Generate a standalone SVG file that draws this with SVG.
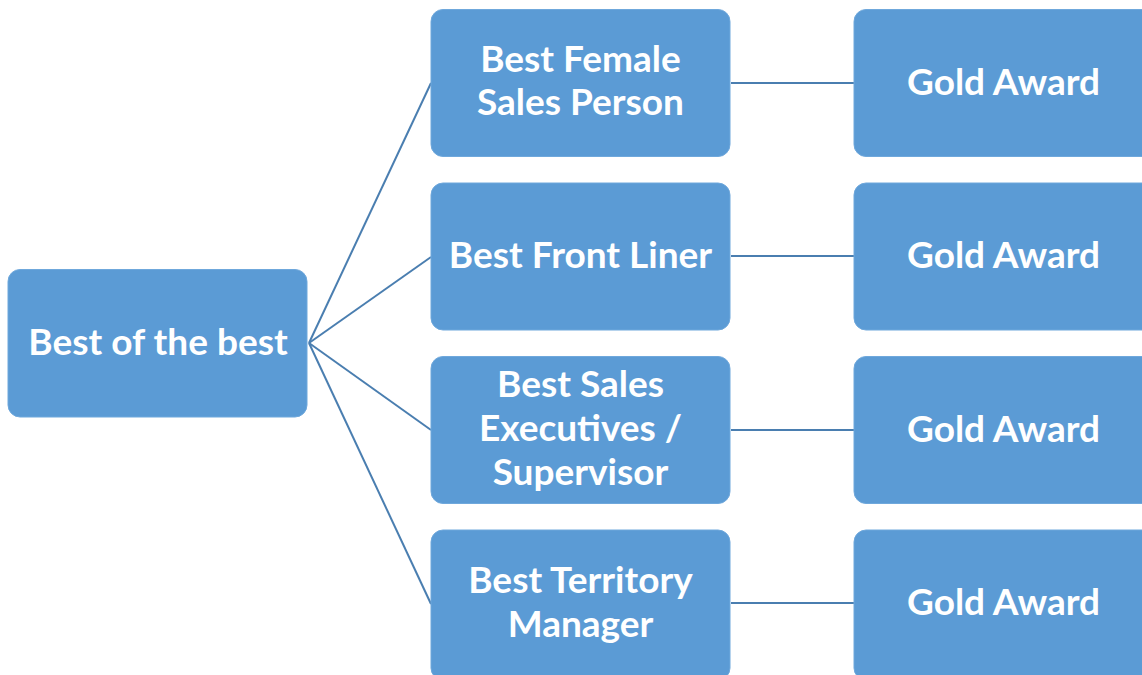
<svg xmlns="http://www.w3.org/2000/svg" width="1142" height="675" viewBox="0 0 1142 675">
<style>
.box{fill:#5B9BD5;stroke:#6FA8DC;stroke-width:1}
.t{font-family:Lato,"Open Sans",sans-serif;font-weight:700;font-size:37px;fill:#fff;text-anchor:middle}
.c{stroke:#4A7EB0;stroke-width:2;fill:none}
</style>
<rect width="1142" height="675" fill="#fff"/>
<g id="connectors">
<line class="c" x1="309" y1="343" x2="431" y2="83"/>
<line class="c" x1="309" y1="343" x2="431" y2="257"/>
<line class="c" x1="309" y1="343" x2="431" y2="430"/>
<line class="c" x1="309" y1="343" x2="431" y2="604"/>
<line class="c" x1="731" y1="83" x2="854" y2="83"/>
<line class="c" x1="731" y1="256" x2="854" y2="256"/>
<line class="c" x1="731" y1="430" x2="854" y2="430"/>
<line class="c" x1="731" y1="603" x2="854" y2="603"/>
</g>
<g id="root"><rect class="box" x="8" y="269.500" width="299" height="147.500" rx="12"/><text class="t" x="158" y="355">Best of the best</text></g>
<g id="m1"><rect class="box" x="431" y="9.500" width="299" height="147" rx="12"/><text class="t" x="580.500" y="72">Best Female</text><text class="t" x="580.500" y="115">Sales Person</text></g>
<g id="m2"><rect class="box" x="431" y="183" width="299" height="147" rx="12"/><text class="t" x="580.500" y="268">Best Front Liner</text></g>
<g id="m3"><rect class="box" x="431" y="356.500" width="299" height="147" rx="12"/><text class="t" x="580.500" y="397">Best Sales</text><text class="t" x="580.500" y="441">Executives /</text><text class="t" x="580.500" y="485">Supervisor</text></g>
<g id="m4"><rect class="box" x="431" y="530" width="299" height="150" rx="12"/><text class="t" x="580.500" y="593">Best Territory</text><text class="t" x="580.500" y="637">Manager</text></g>
<g id="g1"><rect class="box" x="854" y="9.500" width="310" height="147" rx="12"/><text class="t" x="1003.500" y="95">Gold Award</text></g>
<g id="g2"><rect class="box" x="854" y="183" width="310" height="147" rx="12"/><text class="t" x="1003.500" y="268">Gold Award</text></g>
<g id="g3"><rect class="box" x="854" y="356.500" width="310" height="147" rx="12"/><text class="t" x="1003.500" y="442">Gold Award</text></g>
<g id="g4"><rect class="box" x="854" y="530" width="310" height="150" rx="12"/><text class="t" x="1003.500" y="615">Gold Award</text></g>
</svg>
